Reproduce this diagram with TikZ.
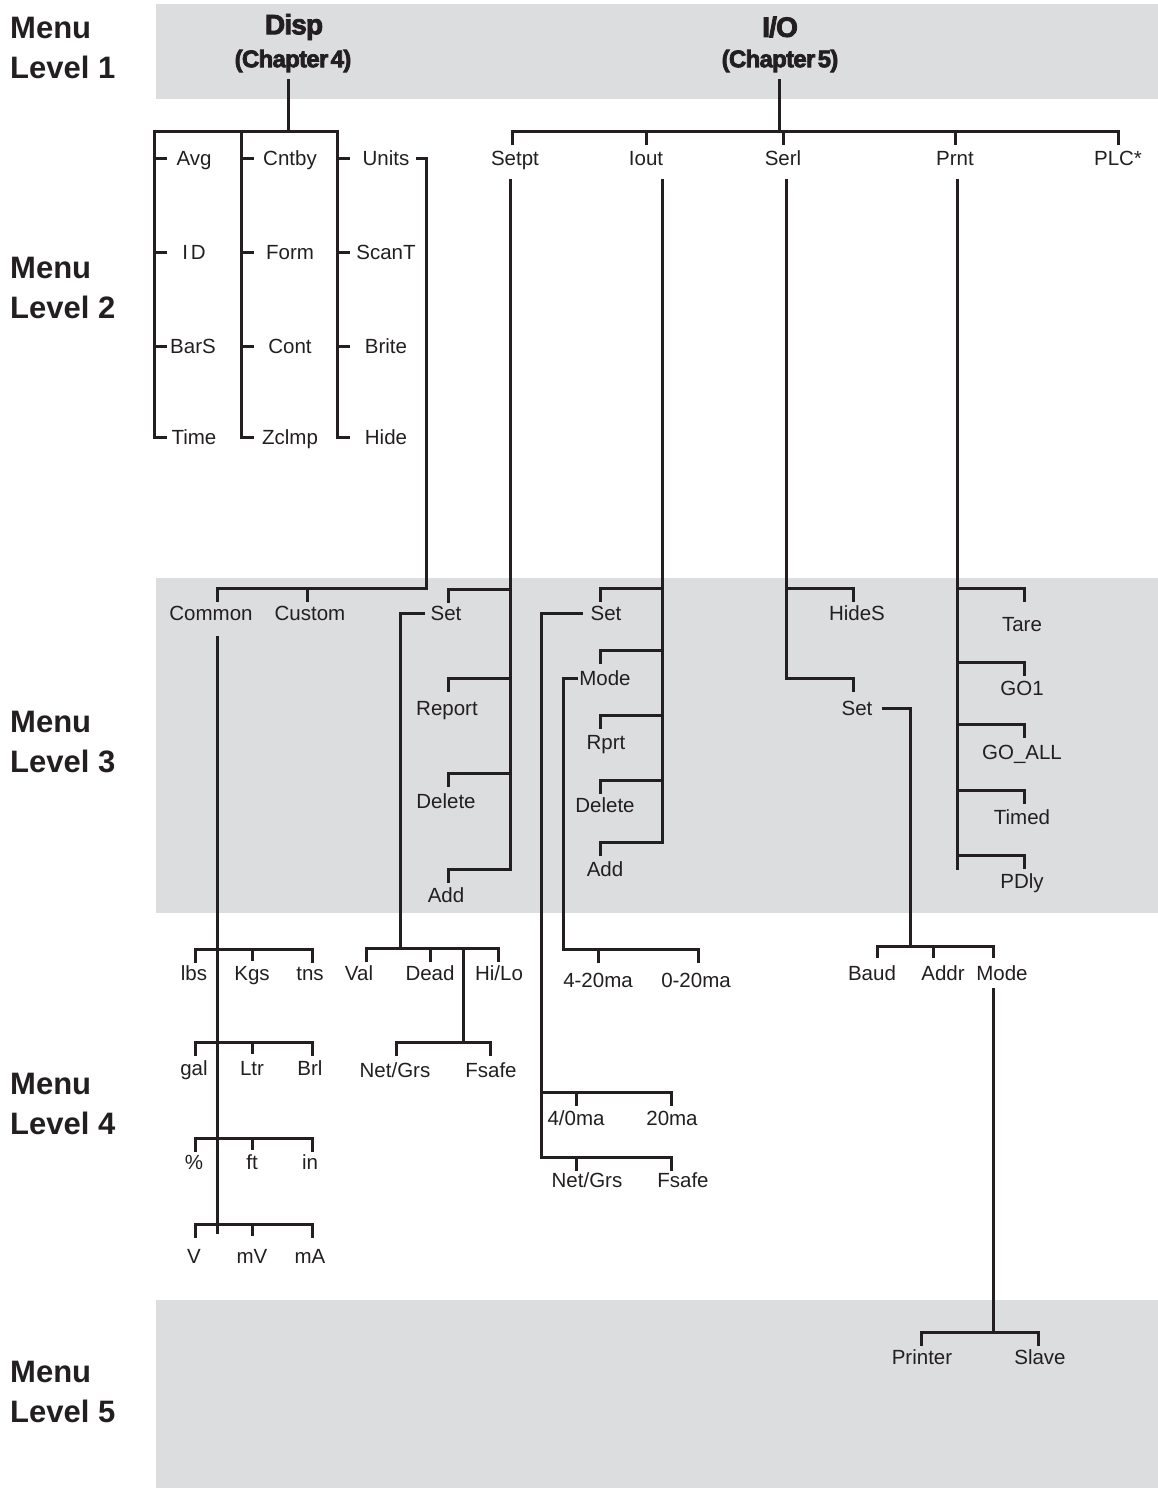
\documentclass[tikz,border=0pt]{standalone}
\usepackage{fontspec}
\setmainfont{Liberation Sans}
\newfontfamily\headfont[FakeBold=3, LetterSpace=-3, WordSpace=0.4]{Liberation Sans Bold}
\usetikzlibrary{positioning}

\definecolor{band}{RGB}{220,221,223}
\definecolor{ink}{RGB}{35,31,32}

\tikzset{
  lbl/.style={font=\fontsize{20.5}{24}\selectfont, text=ink, inner sep=3pt,
    text height=17pt, text depth=2pt},
  menu/.style={font=\fontsize{31}{40}\selectfont\bfseries, text=ink,
    align=left, anchor=west, inner sep=0pt},
  head/.style={font=\fontsize{28}{30}\headfont, text=ink, inner sep=2pt},
  chap/.style={font=\fontsize{24}{26}\headfont, text=ink, inner sep=2pt},
  wire/.style={draw=ink, line width=3pt, line cap=rect, line join=miter},
}

\begin{document}
\begin{tikzpicture}[x=1pt, y=-1pt]
    \useasboundingbox (0,0) rectangle (1158,1488);

    % Grey bands for menu levels 1, 3 and 5
    \fill[band] (156,4) rectangle (1158,99);
    \fill[band] (156,578) rectangle (1158,913);
    \fill[band] (156,1300) rectangle (1158,1488);

    % Level captions
    \node[menu] (lv1) at (10,48) {Menu\\Level 1};
    \node[menu] (lv2) at (10,288) {Menu\\Level 2};
    \node[menu] (lv3) at (10,742) {Menu\\Level 3};
    \node[menu] (lv4) at (10,1104) {Menu\\Level 4};
    \node[menu] (lv5) at (10,1392) {Menu\\Level 5};

    % Level 1 headers
    \node[head] (disp) at (294,27) {Disp};
    \node[chap] (ch4) at (293,61) {(Chapter 4)};
    \node[head] (io) at (780,27) {I/O};
    \node[chap] (ch5) at (780,61) {(Chapter 5)};

    % Disp branch, level 2
    \node[lbl] (avg) at (194,158) {Avg};
    \node[lbl] (id) at (194,252) {I\kern3pt D};
    \node[lbl] (bars) at (193,346) {BarS};
    \node[lbl] (time) at (194,437) {Time};
    \node[lbl] (cntby) at (290,158) {Cntby};
    \node[lbl] (form) at (290,252) {Form};
    \node[lbl] (cont) at (290,346) {Cont};
    \node[lbl] (zclmp) at (290,437) {Zclmp};
    \node[lbl] (units) at (386,158) {Units};
    \node[lbl] (scant) at (386,252) {ScanT};
    \node[lbl] (brite) at (386,346) {Brite};
    \node[lbl] (hide) at (386,437) {Hide};

    \coordinate (dj) at (288,131);
    \coordinate (dc1) at (154,131);
    \coordinate (dc2) at (241,131);
    \coordinate (dc3) at (337,131);
    \draw[wire, shorten <=6pt] (dj |- ch4.south) -- (dj);
    \draw[wire] (dc1) -- (dc3);
    \foreach \c/\n in {dc1/avg, dc1/id, dc1/bars, dc2/cntby, dc2/form, dc2/cont,
        dc3/units, dc3/scant, dc3/brite}
        \draw[wire] (\c |- \n) -- ++(11,0);
    \foreach \c/\n in {dc1/time, dc2/zclmp, dc3/hide}
        \draw[wire] (\c) -- (\c |- \n) -- ++(11,0);

    % Units -> Common / Custom
    \node[lbl] (common) at (211,613) {Common};
    \node[lbl] (custom) at (310,613) {Custom};
    \coordinate (uj) at (426,588);
    \coordinate (cmj) at (217,588);
    \coordinate (csj) at (307,588);
    \draw[wire] (uj |- units) ++(-9,0) -- (uj |- units) -- (uj) -- (cmj) -- ++(0,12);
    \draw[wire] (csj) -- ++(0,12);

    % Common units, level 4
    \coordinate (cmb) at (217,1232);
    \draw[wire, shorten <=12pt] (cmb |- common.south) -- (cmb);
    \foreach \r/\by/\ly/\a/\b/\c in {1/949/973/lbs/Kgs/tns, 2/1042/1068/gal/Ltr/Brl,
        3/1138/1162/\%/ft/in, 4/1224/1256/V/mV/mA} {
        \node[lbl] (ua\r) at (194,\ly) {\a};
        \node[lbl] (ub\r) at (252,\ly) {\b};
        \node[lbl] (uc\r) at (310,\ly) {\c};
        \coordinate (ul\r) at (195,\by);
        \coordinate (ur\r) at (312,\by);
        \draw[wire] (ul\r) ++(0,12) -- (ul\r) -- (ur\r) -- ++(0,12);
        \draw[wire] (ub\r |- ul\r) -- ++(0,10);
    }

    % I/O branch, level 2
    \node[lbl] (setpt) at (515,158) {Setpt};
    \node[lbl] (iout) at (646,158) {Iout};
    \node[lbl] (serl) at (783,158) {Serl};
    \node[lbl] (prnt) at (955,158) {Prnt};
    \node[lbl] (plc) at (1118,158) {PLC*};
    \coordinate (ioj) at (779,131);
    \coordinate (ib1) at (512,131);
    \coordinate (ib5) at (1118,131);
    \draw[wire, shorten <=6pt] (ioj |- ch5.south) -- (ioj);
    \draw[wire] (ib1) ++(0,12) -- (ib1) -- (ib5) -- ++(0,12);
    \foreach \n in {iout,serl,prnt}
        \draw[wire] (\n.north |- ib1) -- ++(0,12);

    % Setpt
    \node[lbl] (spset) at (446,613) {Set};
    \node[lbl] (report) at (447,708) {Report};
    \node[lbl] (spdel) at (446,801) {Delete};
    \node[lbl] (spadd) at (446,895) {Add};
    \coordinate (spt) at (510,869);
    \draw[wire, shorten <=10pt] (spt |- setpt.south) -- (spt);
    \foreach \n/\y in {a/589, b/678, c/773, d/869} {
        \coordinate (sp\n) at (448,\y);
        \draw[wire] (spt |- sp\n) -- (sp\n) -- ++(0,12);
    }

    % Setpt Set -> Val / Dead / Hi/Lo
    \node[lbl] (val) at (359,973) {Val};
    \node[lbl] (dead) at (430,973) {Dead};
    \node[lbl] (hilo) at (499,973) {Hi/Lo};
    \node[lbl] (spng) at (395,1070) {Net/Grs};
    \node[lbl] (spfs) at (491,1070) {Fsafe};
    \coordinate (vj) at (400,948);
    \coordinate (vl) at (366,948);
    \coordinate (vr) at (498,948);
    \coordinate (fj) at (463,1042);
    \coordinate (fl) at (396,1042);
    \coordinate (fr) at (490,1042);
    \draw[wire, shorten <=4pt] (spset.west) -| (vj);
    \draw[wire] (vl) ++(0,12) -- (vl) -- (vr) -- ++(0,12);
    \draw[wire] (dead.north |- vl) -- ++(0,12);
    \draw[wire] (fj |- vl) -- (fj);
    \draw[wire] (fl) ++(0,12) -- (fl) -- (fr) -- ++(0,12);

    % Iout
    \node[lbl] (ioset) at (606,613) {Set};
    \node[lbl] (mode) at (605,678) {Mode};
    \node[lbl] (rprt) at (606,742) {Rprt};
    \node[lbl] (iodel) at (605,805) {Delete};
    \node[lbl] (ioadd) at (605,869) {Add};
    \coordinate (iot) at (662,842);
    \draw[wire, shorten <=10pt] (iot |- iout.south) -- (iot);
    \foreach \n/\y in {a/588, b/650, c/715, d/780, e/842} {
        \coordinate (io\n) at (600,\y);
        \draw[wire] (iot |- io\n) -- (io\n) -- ++(0,12);
    }

    % Iout Mode -> 4-20ma / 0-20ma
    \node[lbl] (ma420) at (598,980) {4-20ma};
    \node[lbl] (ma020) at (696,980) {0-20ma};
    \coordinate (mj) at (563,949);
    \coordinate (mjr) at (698,949);
    \draw[wire] (mode.west) -| (mj) -- (mjr) -- ++(0,12);
    \draw[wire] (ma420.north |- mj) -- ++(0,12);

    % Iout Set -> 4/0ma / 20ma, Net/Grs / Fsafe
    \node[lbl] (ma40) at (576,1118) {4/0ma};
    \node[lbl] (ma20) at (672,1118) {20ma};
    \node[lbl] (iong) at (587,1180) {Net/Grs};
    \node[lbl] (iofs) at (683,1180) {Fsafe};
    \coordinate (ml) at (541,1092);
    \coordinate (mr) at (671,1092);
    \coordinate (sj) at (541,1157);
    \coordinate (sjr) at (671,1157);
    \draw[wire, shorten <=6pt] (ioset.west) -| (sj) -- (sjr) -- ++(0,12);
    \draw[wire] (ml) -- (mr) -- ++(0,12);
    \draw[wire] (ma40.north |- ml) -- ++(0,12);
    \draw[wire] (ma40.north |- sj) -- ++(0,12);

    % Serl
    \node[lbl] (hides) at (857,613) {HideS};
    \node[lbl] (serset) at (857,708) {Set};
    \coordinate (set) at (786,678);
    \coordinate (sea) at (853,588);
    \coordinate (seb) at (853,678);
    \draw[wire, shorten <=10pt] (set |- serl.south) -- (set) -- (seb) -- ++(0,12);
    \draw[wire] (set |- sea) -- (sea) -- ++(0,12);

    % Serl Set -> Baud / Addr / Mode
    \node[lbl] (baud) at (872,973) {Baud};
    \node[lbl] (addr) at (943,973) {Addr};
    \node[lbl] (smode) at (1002,973) {Mode};
    \coordinate (bj) at (910,946);
    \coordinate (bl) at (877,946);
    \coordinate (ba) at (933,946);
    \coordinate (br) at (993,946);
    \draw[wire, shorten <=8pt] (serset.east) -| (bj);
    \draw[wire] (bl) ++(0,10) -- (bl) -- (br) -- ++(0,10);
    \draw[wire] (ba) -- ++(0,10);

    % Mode -> Printer / Slave, level 5
    \node[lbl] (printer) at (922,1357) {Printer};
    \node[lbl] (slave) at (1040,1357) {Slave};
    \coordinate (pj) at (993,1332);
    \coordinate (pl) at (921,1332);
    \coordinate (pr) at (1038,1332);
    \draw[wire, shorten <=4pt] (br |- smode.south) -- (pj);
    \draw[wire] (pl) ++(0,12) -- (pl) -- (pr) -- ++(0,12);

    % Prnt
    \node[lbl] (tare) at (1022,624) {Tare};
    \node[lbl] (goone) at (1022,688) {GO1};
    \node[lbl] (goall) at (1022,752) {GO\_ALL};
    \node[lbl] (timed) at (1022,817) {Timed};
    \node[lbl] (pdly) at (1022,881) {PDly};
    \coordinate (prt) at (957,868);
    \draw[wire, shorten <=10pt] (prt |- prnt.south) -- (prt);
    \foreach \n/\y in {a/588, b/662, c/724, d/790, e/855} {
        \coordinate (pt\n) at (1024,\y);
        \draw[wire] (prt |- pt\n) -- (pt\n) -- ++(0,12);
    }
\end{tikzpicture}
\end{document}
